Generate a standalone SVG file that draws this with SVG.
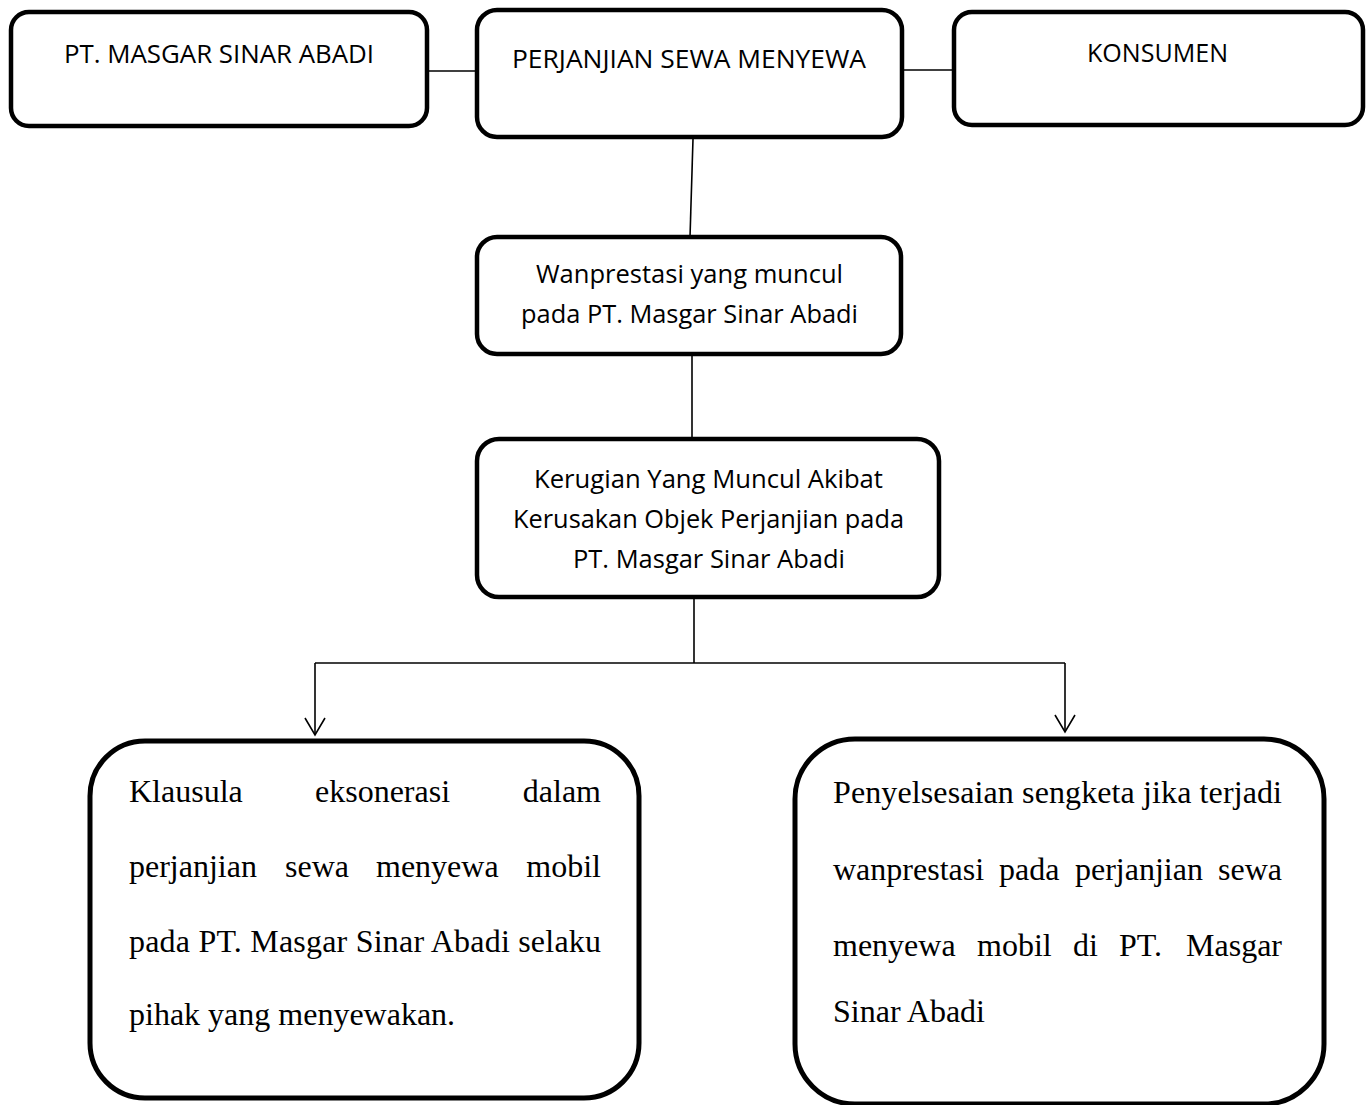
<svg xmlns="http://www.w3.org/2000/svg" width="1370" height="1105" viewBox="0 0 1370 1105">
  <style>
    .box { fill: #ffffff; stroke: #000000; stroke-width: 4.5; }
    .bigbox { fill: #ffffff; stroke: #000000; stroke-width: 5; }
    .sans { font-family: "Open Sans", "Noto Sans", "Liberation Sans", sans-serif; font-size: 26px; fill: #000000; }
    .serif { font-family: "Liberation Serif", "Times New Roman", serif; font-size: 32px; fill: #000000; }
    .line { fill: none; stroke: #000000; stroke-width: 1.6; }
  </style>
  <defs>
    <marker id="openArrow" markerUnits="userSpaceOnUse" markerWidth="24" markerHeight="24" refX="20" refY="12" orient="auto">
      <path d="M3,2 L20,12 L3,22" fill="none" stroke="#000000" stroke-width="1.6"/>
    </marker>
  </defs>
  <rect width="1370" height="1105" fill="#ffffff"/>

  <g id="connectors">
    <line class="line" x1="427" y1="71" x2="477" y2="71"/>
    <line class="line" x1="902" y1="70" x2="954" y2="70"/>
    <line class="line" x1="693" y1="139" x2="690" y2="237"/>
    <line class="line" x1="692" y1="356" x2="692" y2="439"/>
    <line class="line" x1="694" y1="599" x2="694" y2="663"/>
    <line class="line" x1="315" y1="663" x2="1065" y2="663"/>
    <line class="line" x1="315" y1="663" x2="315" y2="735" marker-end="url(#openArrow)"/>
    <line class="line" x1="1065" y1="663" x2="1065" y2="732" marker-end="url(#openArrow)"/>
  </g>

  <g id="node-pt-masgar">
    <rect class="box" x="11" y="12" width="416" height="114" rx="18"/>
    <text class="sans" x="64" y="63" textLength="310" lengthAdjust="spacingAndGlyphs">PT. MASGAR SINAR ABADI</text>
  </g>

  <g id="node-perjanjian">
    <rect class="box" x="477" y="10" width="425" height="127" rx="20"/>
    <text class="sans" x="512" y="68" textLength="354" lengthAdjust="spacingAndGlyphs">PERJANJIAN SEWA MENYEWA</text>
  </g>

  <g id="node-konsumen">
    <rect class="box" x="954" y="12" width="409" height="113" rx="18"/>
    <text class="sans" x="1087" y="62" textLength="141" lengthAdjust="spacingAndGlyphs">KONSUMEN</text>
  </g>

  <g id="node-wanprestasi">
    <rect class="box" x="477" y="237" width="424" height="117" rx="20"/>
    <text class="sans" x="536" y="283" textLength="307" lengthAdjust="spacingAndGlyphs">Wanprestasi yang muncul</text>
    <text class="sans" x="521" y="323" textLength="337" lengthAdjust="spacingAndGlyphs">pada PT. Masgar Sinar Abadi</text>
  </g>

  <g id="node-kerugian">
    <rect class="box" x="477" y="439" width="462" height="158" rx="22"/>
    <text class="sans" x="534" y="488" textLength="349" lengthAdjust="spacingAndGlyphs">Kerugian Yang Muncul Akibat</text>
    <text class="sans" x="513" y="528" textLength="391" lengthAdjust="spacingAndGlyphs">Kerusakan Objek Perjanjian pada</text>
    <text class="sans" x="573" y="568" textLength="272" lengthAdjust="spacingAndGlyphs">PT. Masgar Sinar Abadi</text>
  </g>

  <g id="node-klausula">
    <rect class="bigbox" x="90" y="741" width="549" height="357" rx="55"/>
    <text class="serif" y="802"><tspan x="129">Klausula</tspan><tspan x="315">eksonerasi</tspan><tspan x="601" text-anchor="end">dalam</tspan></text>
    <text class="serif" y="877"><tspan x="129">perjanjian</tspan><tspan x="285">sewa</tspan><tspan x="376">menyewa</tspan><tspan x="601" text-anchor="end">mobil</tspan></text>
    <text class="serif" x="129" y="952" textLength="472" lengthAdjust="spacing">pada PT. Masgar Sinar Abadi selaku</text>
    <text class="serif" x="129" y="1025">pihak yang menyewakan.</text>
  </g>

  <g id="node-penyelesaian">
    <rect class="bigbox" x="795" y="739" width="529" height="365" rx="60"/>
    <text class="serif" x="833" y="803" textLength="449" lengthAdjust="spacing">Penyelsesaian sengketa jika terjadi</text>
    <text class="serif" y="880"><tspan x="833">wanprestasi</tspan><tspan x="999">pada</tspan><tspan x="1075">perjanjian</tspan><tspan x="1282" text-anchor="end">sewa</tspan></text>
    <text class="serif" y="956"><tspan x="833">menyewa</tspan><tspan x="977">mobil</tspan><tspan x="1073">di</tspan><tspan x="1119">PT.</tspan><tspan x="1282" text-anchor="end">Masgar</tspan></text>
    <text class="serif" x="833" y="1022">Sinar Abadi</text>
  </g>
</svg>
